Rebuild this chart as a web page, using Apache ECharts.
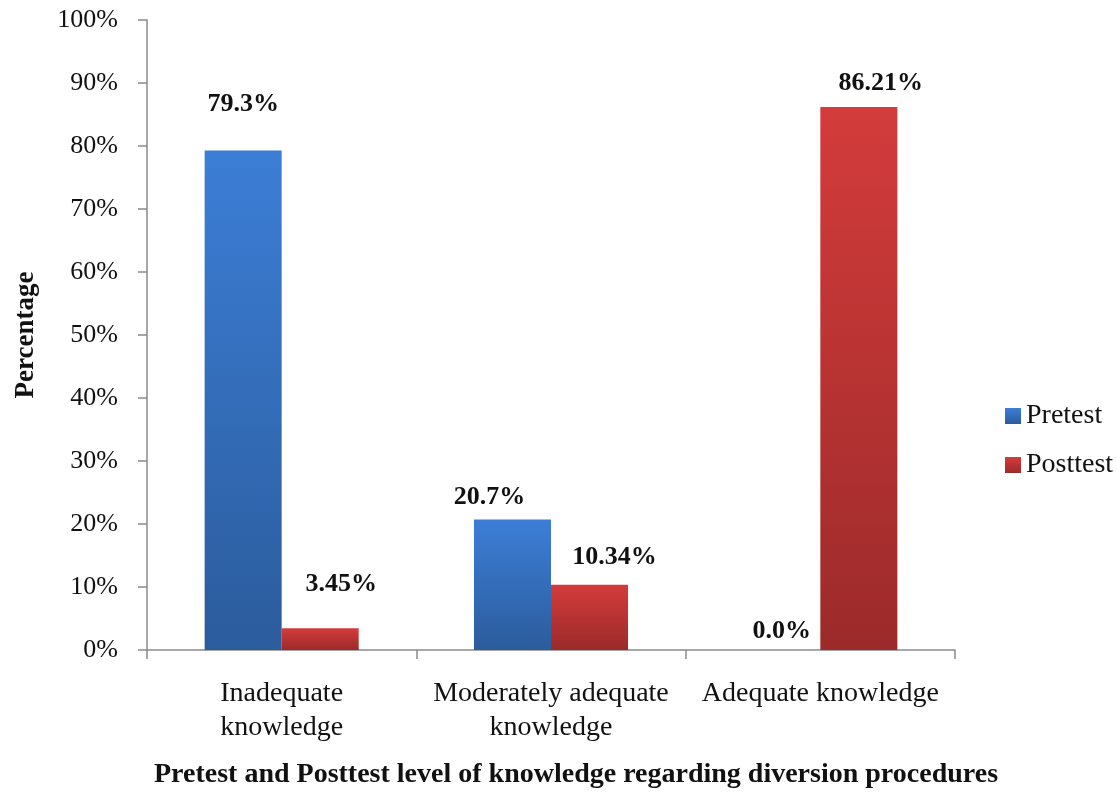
<!DOCTYPE html>
<html>
<head>
<meta charset="utf-8">
<script src="https://cdn.jsdelivr.net/npm/echarts@6/dist/echarts.min.js"></script>
<style>html,body{margin:0;padding:0;background:#fff}#c{width:1117px;height:792px}</style>
</head>
<body>
<div id="c"></div>
<script>
var categories = ['Inadequate\nknowledge', 'Moderately adequate\nknowledge', 'Adequate knowledge'];
var pretest = [79.3, 20.7, 0.0];
var posttest = [3.45, 10.34, 86.21];
var pretestLabels = ['79.3%', '20.7%', '0.0%'];
var posttestLabels = ['3.45%', '10.34%', '86.21%'];
var yTicks = [0, 10, 20, 30, 40, 50, 60, 70, 80, 90, 100];

// label placement (layout only)
var preOffsets = [[0, -28], [-23, -4], [0, -1]];
var postOffsets = [[21, -26], [25, -10], [22, -6]];

var serif = '"Liberation Serif", "Times New Roman", serif';

function grad(top, bottom) {
  return new echarts.graphic.LinearGradient(0, 0, 0, 1, [
    {offset: 0, color: top}, {offset: 1, color: bottom}
  ]);
}

function buildData(vals, labels, offsets) {
  return vals.map(function (v, i) {
    return {value: v, label: {offset: offsets[i], formatter: labels[i]}};
  });
}

var chart = echarts.init(document.getElementById('c'));
chart.setOption({
  animation: false,
  backgroundColor: '#fff',
  grid: {left: 147, right: 162, top: 20, bottom: 142, outerBoundsMode: 'none', containLabel: false},
  legend: {
    orient: 'vertical',
    left: 1000,
    top: 397,
    itemWidth: 16,
    itemHeight: 16,
    itemGap: 21,
    icon: 'rect',
    textStyle: {fontFamily: serif, fontSize: 28, color: '#111'},
    data: ['Pretest', 'Posttest']
  },
  xAxis: {
    type: 'category',
    data: categories,
    name: 'Pretest and Posttest level of knowledge regarding diversion procedures',
    nameLocation: 'middle',
    nameGap: 111,
    nameTextStyle: {fontFamily: serif, fontSize: 28, fontWeight: 'bold', color: '#111', padding: [0, 0, 0, 50]},
    axisLine: {lineStyle: {color: '#8a8a8a', width: 1.5}},
    axisTick: {show: true, length: 9, lineStyle: {color: '#8a8a8a', width: 1.5}},
    axisLabel: {fontFamily: serif, fontSize: 28, color: '#111', margin: 27, lineHeight: 34, interval: 0}
  },
  yAxis: {
    type: 'value',
    min: 0, max: 100, interval: 10,
    name: 'Percentage',
    nameLocation: 'middle',
    nameGap: 107,
    nameTextStyle: {fontFamily: serif, fontSize: 27, fontWeight: 'bold', color: '#111'},
    splitLine: {show: false},
    axisLine: {show: true, lineStyle: {color: '#8a8a8a', width: 1.5}},
    axisTick: {show: true, length: 9, lineStyle: {color: '#8a8a8a', width: 1.5}},
    axisLabel: {
      fontFamily: serif, fontSize: 26, color: '#111', margin: 29,
      formatter: function (v) { return yTicks.indexOf(v) >= 0 ? v + '%' : ''; }
    }
  },
  series: [
    {
      name: 'Pretest',
      type: 'bar',
      barGap: '0%',
      barCategoryGap: '42.8%',
      data: buildData(pretest, pretestLabels, preOffsets),
      itemStyle: {color: grad('#3c7ed6', '#2b5c9c')},
      label: {show: true, position: 'top', fontFamily: serif, fontSize: 26, fontWeight: 'bold', color: '#111'}
    },
    {
      name: 'Posttest',
      type: 'bar',
      data: buildData(posttest, posttestLabels, postOffsets),
      itemStyle: {color: grad('#d33c3b', '#9c2a2a')},
      label: {show: true, position: 'top', fontFamily: serif, fontSize: 26, fontWeight: 'bold', color: '#111'}
    }
  ]
});
</script>
</body>
</html>
